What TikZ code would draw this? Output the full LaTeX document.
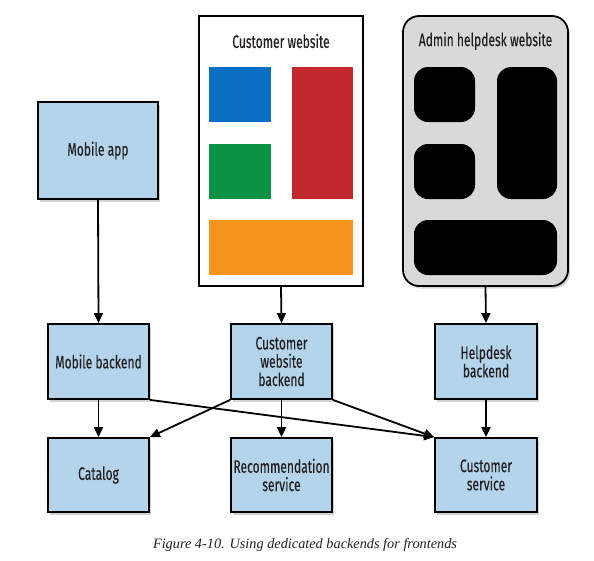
\documentclass[tikz,border=0pt]{standalone}
\usepackage{fontspec}
\setmainfont{Liberation Serif}
\newfontfamily\lblfont[FakeStretch=0.67,FakeBold=0.25]{Fira Sans}
\usetikzlibrary{arrows.meta,shadows}
\definecolor{boxblue}{HTML}{B4D4EC}
\definecolor{tileblue}{HTML}{0A6FC2}
\definecolor{tilered}{HTML}{C1272D}
\definecolor{tilegreen}{HTML}{0A9245}
\definecolor{tileorange}{HTML}{F7941D}
\definecolor{admingray}{HTML}{D9D9D9}
\definecolor{ink}{HTML}{231F20}
\tikzset{
  shade/.style={drop shadow={opacity=0.35,shadow xshift=2pt,shadow yshift=-2.5pt}},
  bx/.style={draw=black,line width=1.8pt,fill=boxblue,shade,align=center,text=ink,
    font=\lblfont\fontsize{18}{18.3}\selectfont,inner sep=2pt},
  tile/.style={inner sep=0pt,draw=none},
  blk/.style={fill=black,rounded corners=14pt,inner sep=0pt,draw=none},
  arr/.style={line width=1.8pt,-{Triangle[length=10pt,width=9pt]}},
  ttl/.style={font=\lblfont\fontsize{18}{18.3}\selectfont,inner sep=0pt,text=ink}
}
\begin{document}
\begin{tikzpicture}[x=1pt,y=-1pt]
\useasboundingbox (0,0) rectangle (594,560);
% top row
\node[bx,minimum width=120,minimum height=97] (app) at (98,150.5) {Mobile app};
\node[draw=black,line width=1.8pt,fill=white,minimum width=164,minimum height=270,inner sep=0pt] (cw) at (281,151) {};
\node[ttl] (cwt) at (281,41) {Customer website};
\node[tile,fill=tileblue,minimum width=62,minimum height=55] (t1) at (240,94.5) {};
\node[tile,fill=tilegreen,minimum width=62,minimum height=55] (t2) at (240,171.5) {};
\node[tile,fill=tilered,minimum width=61,minimum height=132] (t3) at (322.5,133) {};
\node[tile,fill=tileorange,minimum width=144,minimum height=55] (t4) at (281,247.5) {};
\node[draw=black,line width=1.8pt,fill=admingray,rounded corners=16pt,shade,minimum width=165,minimum height=270,inner sep=0pt] (ad) at (485.5,151) {};
\node[ttl] (adt) at (485.5,41) {Admin helpdesk website};
\node[blk,minimum width=61,minimum height=55] (b1) at (444.5,94.5) {};
\node[blk,minimum width=61,minimum height=55] (b2) at (444.5,171.5) {};
\node[blk,minimum width=60,minimum height=132] (b3) at (527,133) {};
\node[blk,minimum width=143,minimum height=55] (b4) at (485.5,247.5) {};
% middle row
\node[bx,minimum width=101,minimum height=75] (mb) at (98.5,361.5) {Mobile backend};
\node[bx,minimum width=101,minimum height=75] (cwb) at (281.5,361.5) {Customer\\website\\backend};
\node[bx,minimum width=102,minimum height=75] (hb) at (486,361.5) {Helpdesk\\backend};
% bottom row
\node[bx,minimum width=101,minimum height=74] (cat) at (98.5,475) {Catalog};
\node[bx,minimum width=101,minimum height=74] (rec) at (281.5,475) {Recommendation\\service};
\node[bx,minimum width=102,minimum height=74] (cs) at (486,475) {Customer\\service};
% connectors
\draw[arr] (app.south) -- (mb.north);
\draw[arr] (cw.south) -- (cwb.north);
\draw[arr] (ad.south) -- (hb.north);
\draw[arr] (mb.south) -- (cat.north);
\draw[arr] (cwb.south) -- (rec.north);
\draw[arr] (hb.south) -- (cs.north);
\draw[arr] (mb.south east) -- (cs.north west);
\draw[arr] (cwb.south east) -- (cs.north west);
\draw[arr] (cwb.south west) -- (cat.north east);
% caption
\node[font=\itshape\fontsize{14.3}{17}\selectfont,inner sep=0pt,text=ink] (cap) at (305,545) {Figure 4-10. Using dedicated backends for frontends};
\end{tikzpicture}
\end{document}
